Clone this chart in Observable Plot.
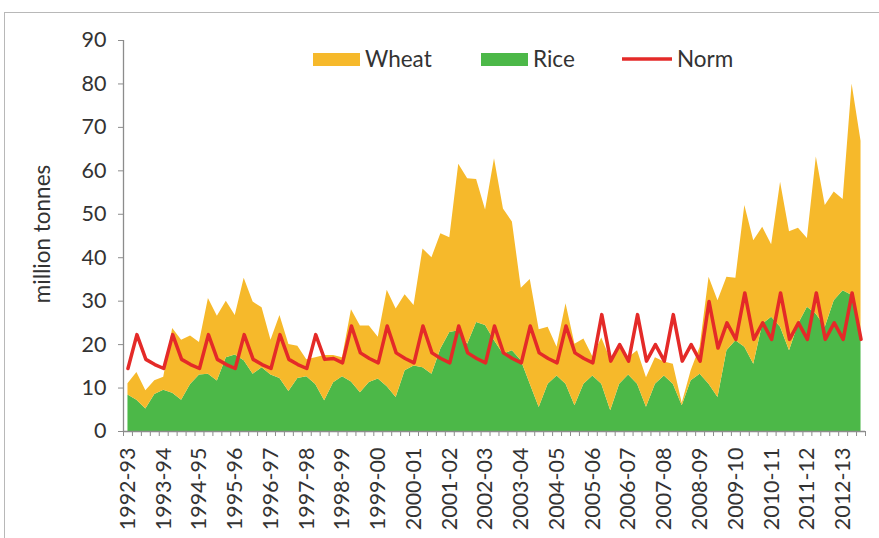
<!DOCTYPE html>
<html>
<head>
<meta charset="utf-8">
<script src="https://cdn.jsdelivr.net/npm/d3@7"></script>
<script src="https://cdn.jsdelivr.net/npm/@observablehq/plot@0.6"></script>
<style>
  body { margin: 0; background: #fff; font-family: Lato, "Open Sans", sans-serif; }
  #wrap { position: relative; width: 879px; height: 538px; overflow: hidden; background: #fff; }
  #frame { position: absolute; left: 4px; top: 12px; width: 900px; height: 600px;
           border-left: 1.5px solid #b8b8b8; border-top: 1.5px solid #b8b8b8; }
  #chart { position: absolute; left: 0; top: 0; }
</style>
</head>
<body>
<div id="wrap"><div id="frame"></div><div id="chart"></div></div>
<script>
// Quarterly stocks (Apr, Jul, Oct, Jan) from Apr 1992 to Oct 2012, million tonnes
const yearLabels = ["1992-93","1993-94","1994-95","1995-96","1996-97","1997-98","1998-99","1999-00",
  "2000-01","2001-02","2002-03","2003-04","2004-05","2005-06","2006-07","2007-08","2008-09",
  "2009-10","2010-11","2011-12","2012-13"];

const rice = [8.4,7.2,5.2,8.5, 9.5,8.8,7.2,10.8, 13.0,13.2,11.6,17.0, 17.6,16.3,13.2,14.7,
  13.0,12.2,9.2,12.2, 12.6,10.8,7.1,11.2, 12.6,11.4,8.9,11.3, 12.1,10.3,7.8,14.0,
  15.1,14.7,13.2,19.0, 22.8,23.2,20.1,25.1, 24.4,20.9,17.8,18.6, 16.3,10.9,5.5,10.9,
  12.8,10.9,5.9,10.9, 12.8,10.9,4.8,10.9, 13.0,10.9,5.6,10.9, 12.8,10.9,5.9,11.7,
  13.2,10.9,7.8,18.6, 20.9,19.4,15.5,24.7, 26.3,24.0,18.6,24.7, 28.6,27.0,24.0,30.1,
  32.4,31.3,21.0];

const wheat = [2.6,6.4,4.2,3.2, 3.0,14.9,13.8,11.2, 7.5,17.4,14.9,13.0, 9.1,19.0,16.6,13.8,
  8.0,14.5,10.8,7.4, 3.9,6.2,10.4,6.3, 4.4,16.6,15.4,13.0, 9.6,22.2,20.4,17.5,
  13.9,27.3,26.8,26.5, 21.8,38.3,38.1,32.9, 26.6,41.9,33.4,29.6, 16.7,24.1,17.9,13.1,
  6.6,18.5,14.2,10.4, 4.4,10.6,11.7,8.6, 4.0,7.7,6.8,6.1, 3.2,4.6,0.6,2.3,
  6.2,24.6,22.3,16.9, 14.4,32.6,28.4,22.3, 16.7,33.4,27.4,22.1, 15.8,36.2,28.0,25.0,
  21.0,48.7,45.8];

const norm = [14.5,22.3,16.6,15.4, 14.5,22.3,16.6,15.4, 14.5,22.3,16.6,15.4, 14.5,22.3,16.6,15.4,
  14.5,22.3,16.6,15.4, 14.5,22.3,16.6,16.8, 15.8,24.3,18.1,16.8, 15.8,24.3,18.1,16.8,
  15.8,24.3,18.1,16.8, 15.8,24.3,18.1,16.8, 15.8,24.3,18.1,16.8, 15.8,24.3,18.1,16.8,
  15.8,24.3,18.1,16.8, 15.8,26.9,16.2,20.0, 16.2,26.9,16.2,20.0, 16.2,26.9,16.2,20.0,
  16.2,29.9,19.2,25.0, 21.2,31.9,21.2,25.0, 21.2,31.9,21.2,25.0, 21.2,31.9,21.2,25.0,
  21.2,31.9,21.2];

const seriesNames = ["Wheat", "Rice"];
const yTicks = [0,10,20,30,40,50,60,70,80,90];

const ORANGE = "#F6B92B", GREEN = "#4CB848", RED = "#E42A28", AXIS = "#8c8c8c", TEXT = "#333333";

const n = norm.length;
const idx = d3.range(n);
const rows = [];
idx.forEach(i => {
  rows.push({i, series: "Rice", value: rice[i]});
  rows.push({i, series: "Wheat", value: wheat[i]});
});
const boundaries = d3.range(-0.5, n + 0.5, 1);
const labelPos = yearLabels.map((_, k) => k * 4);

const chart = Plot.plot({
  width: 879, height: 538,
  marginLeft: 123, marginRight: 14, marginTop: 40, marginBottom: 107,
  style: {fontFamily: "Lato, 'Open Sans', sans-serif", fontSize: "21.5px", color: TEXT, background: "transparent", overflow: "visible"},
  x: {domain: [-0.5, n - 0.5]},
  y: {domain: [0, 90]},
  color: {domain: seriesNames, range: [ORANGE, GREEN]},
  marks: [
    Plot.areaY(rows, {x: "i", y: "value", fill: "series", z: "series", order: ["Rice", "Wheat"]}),
    Plot.line(idx, {x: i => i, y: i => norm[i], stroke: RED, strokeWidth: 3.5}),
    Plot.ruleX([-0.5], {stroke: AXIS, strokeWidth: 1.3}),
    Plot.ruleY([0], {stroke: AXIS, strokeWidth: 1.3}),
    Plot.axisY({ticks: yTicks, tickSize: 5, tickPadding: 12, stroke: AXIS, fill: TEXT, label: null}),
    Plot.axisX({ticks: boundaries, tickSize: 5, tickFormat: () => "", stroke: AXIS, label: null}),
    Plot.axisX({ticks: labelPos, tickSize: 0, tickPadding: 16, tickRotate: -90,
      tickFormat: d => yearLabels[Math.round(d / 4)], fill: TEXT, label: null}),
    Plot.text(["million tonnes"], {text: d => d, frameAnchor: "left", textAnchor: "middle", dx: -81, dy: -2, rotate: -90, fontSize: 22.5, fill: TEXT})
  ]
});

// legend inside the plot area
const svg = d3.select(chart);
const leg = svg.append("g").attr("font-family", "Lato, 'Open Sans', sans-serif").attr("font-size", 22.5)
  .attr("fill", TEXT).attr("text-anchor", "start");
leg.append("rect").attr("x", 313).attr("y", 53).attr("width", 47).attr("height", 13).attr("fill", ORANGE);
leg.append("text").attr("x", 365).attr("y", 67).text(seriesNames[0]);
leg.append("rect").attr("x", 481).attr("y", 53).attr("width", 47).attr("height", 13).attr("fill", GREEN);
leg.append("text").attr("x", 533).attr("y", 67).text(seriesNames[1]);
leg.append("line").attr("x1", 622).attr("x2", 672).attr("y1", 59).attr("y2", 59).attr("stroke", RED).attr("stroke-width", 3.5);
leg.append("text").attr("x", 677).attr("y", 67).text("Norm");

document.getElementById("chart").appendChild(chart);
</script>
</body>
</html>
